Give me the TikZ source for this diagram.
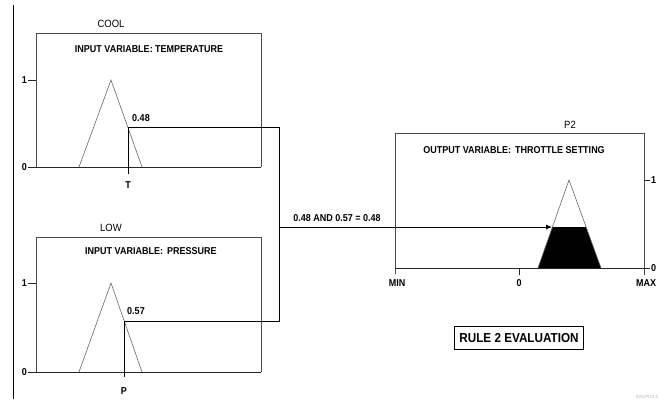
\documentclass[tikz,border=0pt]{standalone}
\usepackage{fontspec}
\setmainfont{Liberation Sans}[FakeStretch=0.9]
\usetikzlibrary{arrows.meta}
\begin{document}
\begin{tikzpicture}[x=1pt,y=-1pt,
  frame/.style={draw=black!70,line width=0.8pt},
  axisline/.style={draw=black!85,line width=0.9pt},
  memb/.style={draw=black!60,line width=0.6pt},
  wire/.style={draw=black,line width=0.8pt},
  lbl/.style={inner sep=0pt,font=\fontsize{10.5}{11}\selectfont},
  blbl/.style={inner sep=0pt,font=\fontsize{10}{11}\selectfont\bfseries},
  title/.style={inner sep=0pt,font=\fontsize{10}{11}\selectfont\bfseries},
  every node/.style={text=black}]
\useasboundingbox (0,0) rectangle (667,400);
% left divider
\draw[line width=0.9pt] (13,5) -- (13,399);

% ---------- top input box ----------
\draw[frame] (36,167) -- (36,33) -- (261,33) -- (261,167);
\draw[axisline] (28,167) -- (261,167);
\draw[axisline] (28,80) -- (36,80);
\node[lbl] (cool) at (111,24) {COOL};
\node[title] (tin) at (149,49) {INPUT VARIABLE: TEMPERATURE};
\node[blbl,anchor=east] (one1) at (27,80) {1};
\node[blbl,anchor=east] (zero1) at (27,167) {0};
\draw[memb] (79,167) -- (111,80) -- (142,167);
\coordinate (Tb) at (128,174);
\coordinate (Tc) at (128,127);
\node[blbl] (T) at (128,185) {T};
\node[blbl] (v48) at (141,118) {0.48};
\coordinate (J1) at (279,127);

% ---------- bottom input box ----------
\draw[frame] (36,372) -- (36,237) -- (261,237) -- (261,372);
\draw[axisline] (28,372) -- (261,372);
\draw[axisline] (28,283) -- (36,283);
\node[lbl] (low) at (111,228) {LOW};
\node[title] (pin) at (151,251) {INPUT VARIABLE:\ \,PRESSURE};
\node[blbl,anchor=east] (one2) at (27,283) {1};
\node[blbl,anchor=east] (zero2) at (27,372) {0};
\draw[memb] (79,372) -- (111,283) -- (142,372);
\coordinate (Pb) at (124,377);
\coordinate (Pc) at (124,321);
\node[blbl] (P) at (124,391) {P};
\node[blbl] (v57) at (136,311) {0.57};
\coordinate (J2) at (279,321);

% connectors
\draw[wire] (Tb) -- (Tc) -- (J1) -- (J2) -- (Pc) -- (Pb);
\coordinate (A0) at (279,227);
\coordinate (A1) at (552,227);
\draw[wire,-{Latex[length=6pt,width=5pt]}] (A0) -- (A1);
\node[blbl] (andlbl) at (337,218) {0.48 AND 0.57 = 0.48};

% ---------- output box ----------
\draw[frame] (395,274) -- (395,133) -- (644,133) -- (644,275);
\draw[axisline] (395,268) -- (650,268);
\draw[axisline] (644,180) -- (650,180);
\draw[axisline] (519,268) -- (519,275);
\node[lbl] (p2) at (570,125) {P2};
\node[title] (tout) at (514,150) {OUTPUT VARIABLE:\ \,THROTTLE SETTING};
\node[blbl,anchor=west] (one3) at (651,180) {1};
\node[blbl,anchor=west] (zero3) at (651,268) {0};
\node[blbl] (min) at (397,283) {MIN};
\node[blbl] (zeroax) at (519,283) {0};
\node[blbl] (max) at (646,283) {MAX};
\fill[black] (538,268) -- (552.4,227) -- (586,227) -- (601,268) -- cycle;
\draw[memb] (538,268) -- (569,180) -- (601,268);

% ---------- rule label ----------
\node[draw,line width=1.4pt,minimum width=129pt,minimum height=23pt,inner sep=0pt,
  font=\fontsize{13}{14}\selectfont\bfseries] (rule) at (519,338) {RULE 2 EVALUATION};

\node[text=black!30,inner sep=0pt,font=\fontsize{4.5}{5}\selectfont] (svg) at (647,397) {SVG/PD/1.0};
\end{tikzpicture}
\end{document}
